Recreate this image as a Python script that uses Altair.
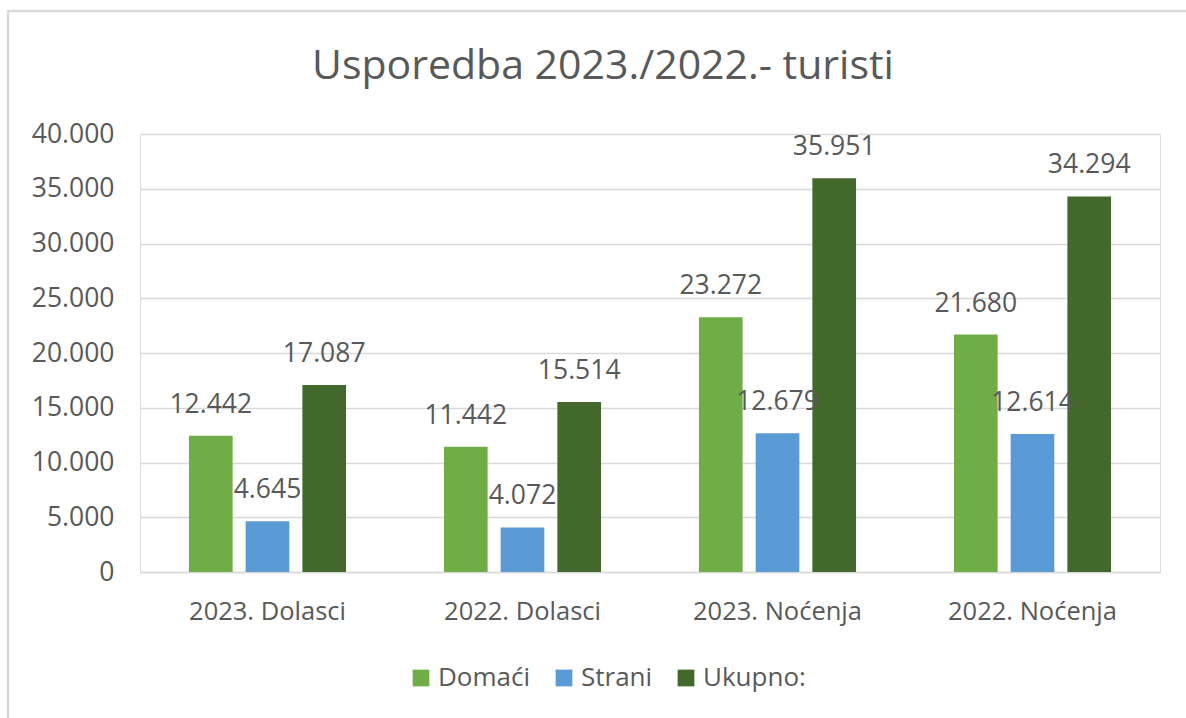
import altair as alt
import pandas as pd

categories = ["2023. Dolasci", "2022. Dolasci", "2023. Noćenja", "2022. Noćenja"]
series = ["Domaći", "Strani", "Ukupno:"]
domaci = [12442, 11442, 23272, 21680]
strani = [4645, 4072, 12679, 12614]
ukupno = [17087, 15514, 35951, 34294]
colors = ["#70AD47", "#5B9BD5", "#43682B"]
y_ticks = [0, 5000, 10000, 15000, 20000, 25000, 30000, 35000, 40000]

rows = []
for s, vals in zip(series, [domaci, strani, ukupno]):
    for c, v in zip(categories, vals):
        rows.append({"cat": c, "series": s, "value": v,
                     "label": f"{v:,}".replace(",", ".")})
df = pd.DataFrame(rows)

FONT = "Open Sans"
GRAY = "#595959"
GRID = "#D9D9D9"

x_enc = alt.X("cat:N", sort=categories,
              scale=alt.Scale(paddingInner=0.384, paddingOuter=0.192),
              axis=alt.Axis(title=None, labelAngle=0, ticks=False, domain=True,
                            domainColor=GRID, domainWidth=1.5,
                            labelFontSize=25.5, labelColor=GRAY, labelFont=FONT,
                            labelPadding=27))
xo_enc = alt.XOffset("series:N", sort=series,
                     scale=alt.Scale(paddingInner=0.23, paddingOuter=0))
y_enc = alt.Y("value:Q", scale=alt.Scale(domain=[0, 40000]),
              axis=alt.Axis(title=None, values=y_ticks, ticks=False, domain=False,
                            grid=True, gridColor=GRID, gridWidth=1.5,
                            labelFontSize=26.5, labelColor=GRAY, labelFont=FONT,
                            labelPadding=26,
                            labelExpr="replace(format(datum.value, ','), ',', '.')"))

bars = alt.Chart(df).mark_bar().encode(
    x=x_enc, xOffset=xo_enc, y=y_enc,
    color=alt.Color("series:N", sort=series,
                    scale=alt.Scale(domain=series, range=colors),
                    legend=alt.Legend(title=None, orient="none", direction="horizontal",
                                      legendX=268, legendY=531,
                                      symbolType="square", symbolSize=280,
                                      symbolStrokeWidth=0,
                                      labelFontSize=26, labelColor=GRAY, labelFont=FONT,
                                      labelOffset=4, columnPadding=20))
)

labels = alt.Chart(df).mark_text(dy=-31, fontSize=26.5, color=GRAY, font=FONT,
                                 baseline="middle").encode(
    x=alt.X("cat:N", sort=categories), xOffset=alt.XOffset("series:N", sort=series),
    y="value:Q", text="label:N"
)

frame = alt.Chart(alt.Data(values=[{}])).mark_rect(
    fill=None, stroke=GRID, strokeWidth=2.5
).encode(x=alt.value(-132), x2=alt.value(1070), y=alt.value(-123), y2=alt.value(600))

chart = alt.layer(frame, bars, labels).properties(
    width=1020, height=438,
    title=alt.Title("Usporedba 2023./2022.- turisti", fontSize=41, font=FONT,
                    fontWeight="normal", color=GRAY, anchor="middle", frame="group",
                    baseline="alphabetic", dx=-47, offset=-110),
    autosize=alt.AutoSizeParams(type="none"),
    padding={"left": 140, "top": 134, "right": 26, "bottom": 146},
).configure_view(stroke=None).configure(background="white")

chart.save("out.html", embed_options={"renderer": "svg", "actions": False})
